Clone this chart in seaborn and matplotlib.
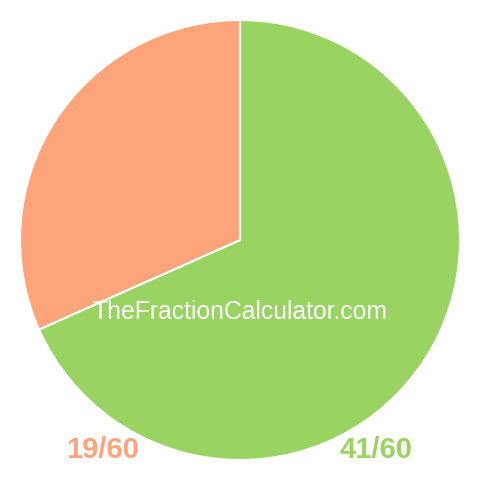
import matplotlib.pyplot as plt
import seaborn as sns

# slice data
labels = ['41/60', '19/60']
values = [41, 19]
colors = ['#99d462', '#fea47b']

sns.set_theme(style='white')
plt.rcParams['font.family'] = ['Liberation Sans', 'DejaVu Sans']

fig = plt.figure(figsize=(4.8, 4.8), dpi=100)
ax = fig.add_axes([0, 0, 1, 1])

# pie, clockwise from the top
ax.pie(values, colors=colors, startangle=90, counterclock=False, radius=1,
       wedgeprops=dict(edgecolor='white', linewidth=1.5))
ax.set_xlim(-240 / 220, 240 / 220)
ax.set_ylim(-240 / 220, 240 / 220)
ax.set_aspect('equal')
ax.axis('off')

# watermark and labels (pixel coords)
fig.text(240 / 480, 1 - 312 / 480, 'TheFractionCalculator.com', color='white',
         fontsize=17.8, ha='center', va='center')
fig.text(103 / 480, 1 - 450 / 480, labels[1], color=colors[1],
         fontsize=21, fontweight='bold', ha='center', va='center')
fig.text(376 / 480, 1 - 450 / 480, labels[0], color=colors[0],
         fontsize=21, fontweight='bold', ha='center', va='center')

fig.savefig('out.png', dpi=100)
